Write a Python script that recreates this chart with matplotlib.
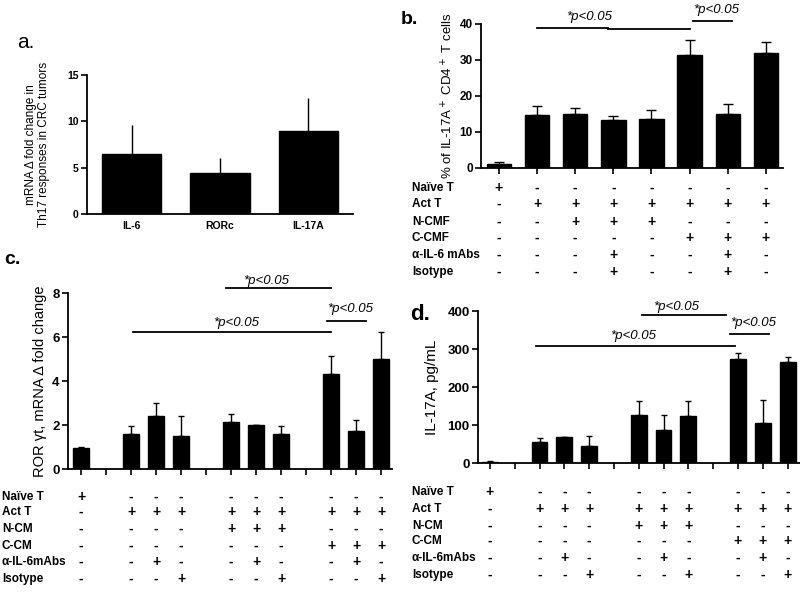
import numpy as np
import matplotlib
matplotlib.use('Agg')
import matplotlib.pyplot as plt
import matplotlib.transforms as mtrans

plt.rcParams['font.family'] = ['Liberation Sans', 'DejaVu Sans']
plt.rcParams['axes.linewidth'] = 1.3

#data
#---------------------------------
a_genes = ['IL-6', 'RORc', 'IL-17A']
a_mean = [6.45, 4.42, 9.0]
a_sem = [3.2, 1.6, 3.5]

b_mean = [1.2, 14.7, 15.1, 13.3, 13.7, 31.4, 15.1, 32.0]
b_sem = [0.5, 2.5, 1.6, 1.1, 2.4, 4.1, 2.7, 2.9]
b_rows = ['Naïve T', 'Act T', 'N-CMF', 'C-CMF', 'α-IL-6 mAbs', 'Isotype']
b_signs = ['+-------',
           '-+++++++',
           '--+++---',
           '-----+++',
           '---+--+-',
           '---+--+-']

# panels c and d: 13 slots, empty slots at 1, 5, 9
cd_pos = [0, 2, 3, 4, 6, 7, 8, 10, 11, 12]
c_mean = [0.94, 1.58, 2.39, 1.52, 2.14, 1.98, 1.58, 4.30, 1.74, 4.98]
c_sem = [0.08, 0.37, 0.59, 0.87, 0.34, 0.04, 0.37, 0.84, 0.47, 1.23]
d_mean = [3.5, 54, 67.5, 46, 127, 86, 125, 275, 106, 267]
d_sem = [0.5, 13, 1.5, 25, 37, 40, 39, 14, 60, 11]
cd_rows = ['Naïve T', 'Act T', 'N-CM', 'C-CM', 'α-IL-6mAbs', 'Isotype']
cd_signs = ['+---------',
            '-+++++++++',
            '----+++---',
            '-------+++',
            '--+--+--+-',
            '---+--+--+']

W, H = 800, 593
fig = plt.figure(figsize=(W/100, H/100), dpi=100)

def box(x0, y0, x1, y1):
    return [x0/W, 1-y1/H, (x1-x0)/W, (y1-y0)/H]

def style(ax, ticksize=7.5):
    for s in ['top', 'right']:
        ax.spines[s].set_visible(False)
    ax.tick_params(axis='both', direction='out', length=4, width=1.2, labelsize=ticksize, pad=2)
    for lab in ax.get_yticklabels() + ax.get_xticklabels():
        lab.set_fontweight('bold')

def bars(ax, x, m, e, w, cap):
    ax.bar(x, m, width=w, color='k', edgecolor='k', zorder=2)
    ax.errorbar(x, m, yerr=[np.zeros(len(e)), e], fmt='none', ecolor='k',
                elinewidth=1.0, capsize=cap, capthick=1.0, zorder=1)

def sig(ax, x1, x2, y, xt, yt, fs=9.5):
    ax.plot([x1, x2], [y, y], color='k', lw=1.3, clip_on=False)
    ax.text(xt, yt, '*p<0.05', style='italic', fontsize=fs, ha='center', va='center', clip_on=False)

def table(ax, rows, signs, xs, ys, xlab):
    tr = mtrans.blended_transform_factory(ax.transData, fig.transFigure)
    for r, (name, s) in enumerate(zip(rows, signs)):
        yy = 1 - ys[r]/H
        fig.text(xlab/W, yy, name, fontsize=8.5, fontweight='bold', ha='left', va='center')
        for k, ch in enumerate(s):
            ax.text(xs[k], yy, ch, transform=tr, fontsize=10 if ch == '+' else 10,
                    fontweight='bold', ha='center', va='center')

#panel a
#---------------------------------
axa = fig.add_axes(box(87, 75, 353, 214))
bars(axa, np.arange(3), a_mean, a_sem, 0.67, 0)
axa.set_xlim(-0.51, 2.51)
axa.set_ylim(0, 15)
axa.set_yticks([0, 5, 10, 15])
axa.set_xticks(np.arange(3))
axa.set_xticklabels(a_genes)
style(axa, 7.5)
axa.tick_params(axis='x', length=0, pad=5)
axa.set_ylabel('mRNA Δ fold change in\nTh17 responses in CRC tumors', fontsize=8.5, labelpad=12)
fig.text(17/W, 1-42/H, 'a.', fontsize=15, ha='left', va='center')

#panel b
#---------------------------------
axb = fig.add_axes(box(481, 24, 783, 168))
bars(axb, np.arange(8), b_mean, b_sem, 0.64, 3.5)
axb.set_xlim(-0.47, 7.45)
axb.set_ylim(0, 40)
axb.set_yticks([0, 10, 20, 30, 40])
axb.set_xticks(np.arange(8))
axb.set_xticklabels([])
style(axb, 8.5)
axb.set_ylabel('% of IL-17A$^+$ CD4$^+$ T cells', fontsize=9.5, labelpad=3)
axb.plot([1, 2.85], [38.97, 38.97], color='k', lw=1.3, clip_on=False)
sig(axb, 2.85, 5.0, 38.6, 2.38, 42.0)
sig(axb, 5.1, 6.1, 40.9, 5.7, 43.9)
table(axb, b_rows, b_signs, np.arange(8), [188, 204, 222, 238, 255, 272], 412)
fig.text(401/W, 1-20/H, 'b.', fontsize=14, fontweight='bold', ha='left', va='center')

#panel c
#---------------------------------
axc = fig.add_axes(box(68, 293, 392, 469))
bars(axc, cd_pos, c_mean, c_sem, 0.64, 2)
axc.set_xlim(-0.52, 12.44)
axc.set_ylim(0, 8)
axc.set_yticks([0, 2, 4, 6, 8])
axc.set_xticks(np.arange(13))
axc.set_xticklabels([])
style(axc, 9.5)
axc.set_ylabel('ROR γt, mRNA Δ fold change', fontsize=10.5, labelpad=4)
sig(axc, 5.8, 10.0, 8.23, 7.4, 8.55)
sig(axc, 2.08, 10.0, 6.23, 6.2, 6.64)
sig(axc, 9.84, 11.4, 6.73, 10.76, 7.27)
table(axc, cd_rows, cd_signs, cd_pos, [497, 512, 529, 546, 562, 579], 2)
fig.text(4/W, 1-259/H, 'c.', fontsize=14, fontweight='bold', ha='left', va='center')

#panel d
#---------------------------------
axd = fig.add_axes(box(478, 311, 800, 463))
bars(axd, cd_pos, d_mean, d_sem, 0.64, 2)
axd.set_xlim(-0.48, 12.5)
axd.set_ylim(0, 400)
axd.set_yticks([0, 100, 200, 300, 400])
axd.set_xticks(np.arange(13))
axd.set_xticklabels([])
style(axd, 9.5)
axd.set_ylabel('IL-17A, pg/mL', fontsize=11, labelpad=6)
sig(axd, 6.13, 9.5, 389, 7.5, 410)
sig(axd, 1.85, 9.88, 308, 5.77, 334)
sig(axd, 9.68, 11.25, 339, 10.6, 368)
table(axd, cd_rows, cd_signs, cd_pos, [492, 509, 526, 541, 558, 575], 412)
fig.text(410/W, 1-315/H, 'd.', fontsize=16, fontweight='bold', ha='left', va='center')

fig.savefig('out.png', dpi=100)
